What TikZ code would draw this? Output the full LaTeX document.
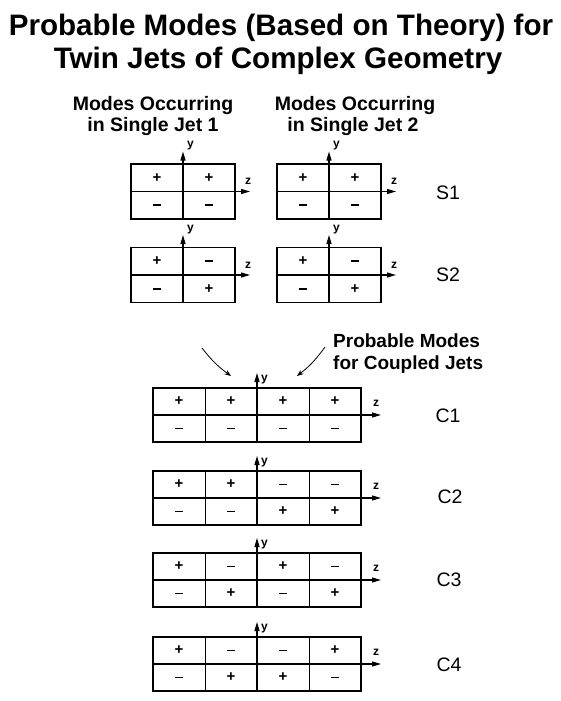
\documentclass[tikz,border=0pt]{standalone}
\usepackage{fontspec}
\setmainfont{Liberation Sans}
\usetikzlibrary{arrows.meta, calc}

\newcommand\sgnp{{\fontsize{15}{15}\selectfont\bfseries +}}
\newcommand\sgnm{\rule{7.5pt}{1.9pt}}

\begin{document}
\begin{tikzpicture}[
    x=1pt, y=-1pt,
    >=Stealth,
    ttl/.style={font=\bfseries\fontsize{29.6}{33}\selectfont, anchor=base, inner sep=0pt},
    hdr/.style={font=\bfseries\fontsize{19.5}{21}\selectfont, anchor=base, inner sep=0pt},
    rowtag/.style={font=\fontsize{19.5}{19.5}\selectfont, inner sep=0pt},
    scell/.style={draw, line width=0.7pt, minimum width=52pt, minimum height=27.5pt, inner sep=0pt, outer sep=0pt},
    ccell/.style={scell, minimum height=27pt},
    frm/.style={draw, line width=1.5pt},
    ax/.style={-{Triangle[length=9pt, width=5pt]}, line width=1.1pt},
    axlbl/.style={font=\bfseries\fontsize{12}{12}\selectfont, inner sep=0pt},
    pointer/.style={->, line width=0.8pt}
]
\useasboundingbox (0,0) rectangle (560,701);

% ── Title ──
\node[ttl] (title1) at (281,36) {Probable Modes (Based on Theory) for};
\node[ttl] (title2) at (278,69) {Twin Jets of Complex Geometry};

% ── Column Headers ──
\node[hdr] (jet1a) at (153,110) {Modes Occurring};
\node[hdr] (jet1b) at (153,131) {in Single Jet 1};
\node[hdr] (jet2a) at (355,110) {Modes Occurring};
\node[hdr] (jet2b) at (353,131) {in Single Jet 2};

% ── Single Jet Modes (2 x 2) ──
\foreach \nm/\xl/\ytop/\pat in {s1a/131/164/{p/m,p/m}, s1b/277/164/{p/m,p/m},
                               s2a/131/247.5/{p/m,m/p}, s2b/277/247.5/{p/m,m/p}} {
  \foreach \t/\b [count=\i] in \pat {
    \node[scell] (\nm-t\i) at ({\xl+(\i-0.5)*52}, {\ytop+13.75}) {\csname sgn\t\endcsname};
    \node[scell] (\nm-b\i) at ({\xl+(\i-0.5)*52}, {\ytop+41.25}) {\csname sgn\b\endcsname};
  }
  \draw[frm] (\nm-t1.north west) rectangle (\nm-b2.south east);
  \coordinate (\nm-ytip) at ({\xl+52}, {\ytop-12.5});
  \coordinate (\nm-ztip) at ({\xl+119}, {\ytop+27.5});
  \draw[ax] (\nm-b1.south east) -- (\nm-ytip);
  \draw[ax] (\nm-b1.north west) -- (\nm-ztip);
  \node[axlbl, anchor=south west] (\nm-y) at ([shift={(4,-1)}]\nm-ytip) {y};
  \node[axlbl, anchor=base] (\nm-z) at ([shift={(-2,-7)}]\nm-ztip) {z};
}

\node[rowtag] (S1) at (448,193) {S1};
\node[rowtag] (S2) at (448,275) {S2};

% ── Coupled Jet Modes (4 x 2) ──
\node[hdr, anchor=base west, font=\bfseries\fontsize{19}{21}\selectfont] (cpl1) at (333,347) {Probable Modes};
\node[hdr, anchor=base west, font=\bfseries\fontsize{19}{21}\selectfont] (cpl2) at (333,369) {for Coupled Jets};

\foreach \nm/\ytop/\pat in {c1/388/{p/m,p/m,p/m,p/m}, c2/471/{p/m,p/m,m/p,m/p},
                           c3/553/{p/m,m/p,p/m,m/p}, c4/637/{p/m,m/p,m/p,p/m}} {
  \foreach \t/\b [count=\i] in \pat {
    \node[ccell] (\nm-t\i) at ({153+(\i-0.5)*52}, {\ytop+13.5}) {\csname sgn\t\endcsname};
    \node[ccell] (\nm-b\i) at ({153+(\i-0.5)*52}, {\ytop+40.5}) {\csname sgn\b\endcsname};
  }
  \draw[frm] (\nm-t1.north west) rectangle (\nm-b4.south east);
  \coordinate (\nm-ytip) at (257, {\ytop-15});
  \coordinate (\nm-ztip) at (381, {\ytop+27});
  \draw[ax] (\nm-b2.south east) -- (\nm-ytip);
  \draw[ax] (\nm-b1.north west) -- (\nm-ztip);
  \node[axlbl, anchor=north west] (\nm-y) at ([shift={(4,2)}]\nm-ytip) {y};
  \node[axlbl, anchor=base] (\nm-z) at ([shift={(-5,-9)}]\nm-ztip) {z};
}

\node[rowtag] (C1) at (448,416) {C1};
\node[rowtag] (C2) at (450,497) {C2};
\node[rowtag] (C3) at (449,580) {C3};
\node[rowtag] (C4) at (449,665) {C4};

% ── Pointers to C1 ──
\coordinate (ptrL) at (202,348);
\coordinate (ptrR) at (325,347);
\coordinate (tipL) at (231,376);
\coordinate (tipR) at (297,376);
\draw[pointer] (ptrL) to[bend right=8] (tipL);
\draw[pointer] (ptrR) to[bend left=8] (tipR);

\end{tikzpicture}
\end{document}
